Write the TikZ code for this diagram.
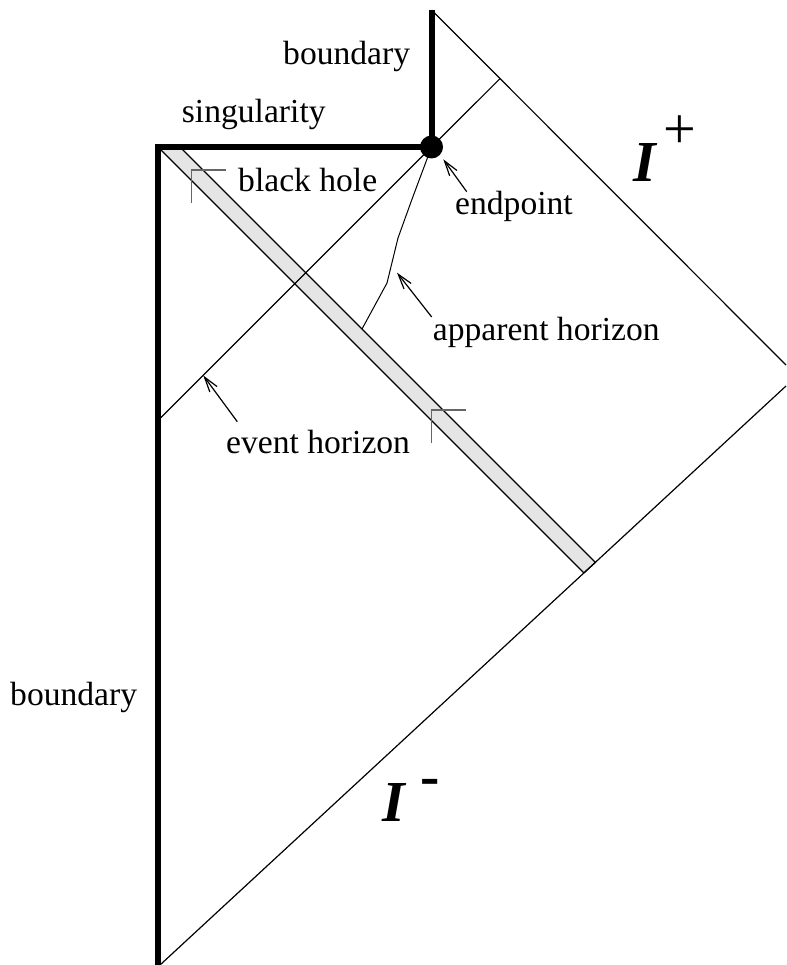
\documentclass[tikz,border=0pt]{standalone}
\usepackage{fontspec}
\setmainfont{Liberation Serif}
\usetikzlibrary{arrows.meta}
\begin{document}
\begin{tikzpicture}[x=1pt,y=-1pt,
  thinline/.style={line width=1.2pt},
  thickline/.style={line width=6pt, line join=miter},
  lbl/.style={inner sep=0pt, anchor=base west, font=\fontsize{33.6}{40}\selectfont},
  scri/.style={inner sep=0pt, anchor=base west, font=\fontsize{58}{60}\selectfont\bfseries\itshape},
  supsign/.style={inner sep=0pt, anchor=center, font=\fontsize{58}{60}\selectfont},
  ptr/.style={line width=1.2pt, -{Straight Barb[length=15pt,width=9pt,line width=1.2pt]}},
  cornermark/.style={line width=1.3pt, draw=black!60},
  shell/.style={thinline, fill=black!10, draw=black}
]
\useasboundingbox (0,0) rectangle (786,965);
% key points
\coordinate (corner) at (158,147);
\coordinate (bot) at (158,965);
\coordinate (top) at (431.5,10);
\coordinate (ep) at (431.5,147);
\coordinate (iplusend) at (786,365);
\coordinate (iminusstart) at (160,965);
\coordinate (iminusend) at (786,386);
\coordinate (ehlow) at (158,420.5);
\coordinate (ehhigh) at (499.8,78.8);
% shell
\draw[shell] (158,147) -- (180,147) -- (595.4,562.4) -- (583.9,572.9) -- cycle;
% null lines
\draw[thinline] (top) -- (iplusend);
\draw[thinline] (iminusstart) -- (iminusend);
\draw[thinline] (ehlow) -- (ehhigh);
% apparent horizon
\coordinate (ahend) at (362,329);
\draw[line width=1pt] (ep) -- (411.7,200) -- (398,238) -- (387,283) -- (ahend);
% boundaries and singularity
\draw[thickline] (ep) -- (corner) -- (bot);
\draw[thickline] (top) -- (ep);
\node[circle, fill=black, inner sep=0pt, minimum size=23pt] (dot) at (ep) {};
% corner marks
\draw[cornermark] (191.7,203) -- (191.7,170) -- (226,170);
\draw[cornermark] (431.7,443) -- (431.7,410) -- (466,410);
% labels
\node[lbl] (bndtop) at (283,65) {boundary};
\node[lbl] (sing) at (181.7,123) {singularity};
\node[lbl] (bh) at (238,192) {black hole};
\node[lbl] (endp) at (455,215) {endpoint};
\node[lbl] (app) at (432.7,340) {apparent horizon};
\node[lbl] (evt) at (226,453) {event horizon};
\node[lbl] (bndlow) at (10,705) {boundary};
\node[scri] (Iplus) at (633,182) {I};
\node[supsign] (plus) at (679.5,132) {+};
\node[scri] (Iminus) at (382,821) {I};
\node[supsign, font=\fontsize{58}{60}\selectfont\bfseries] (minus) at (430,787) {-};
% pointers
\coordinate (eptail) at (466.7,191.7);
\coordinate (eptip) at (443.3,159.3);
\coordinate (aptail) at (431.7,317);
\coordinate (aptip) at (397,272.7);
\coordinate (evtail) at (237.3,421.7);
\coordinate (evtip) at (203.3,375.5);
\draw[ptr] (eptail) -- (eptip);
\draw[ptr] (aptail) -- (aptip);
\draw[ptr] (evtail) -- (evtip);
\end{tikzpicture}
\end{document}
